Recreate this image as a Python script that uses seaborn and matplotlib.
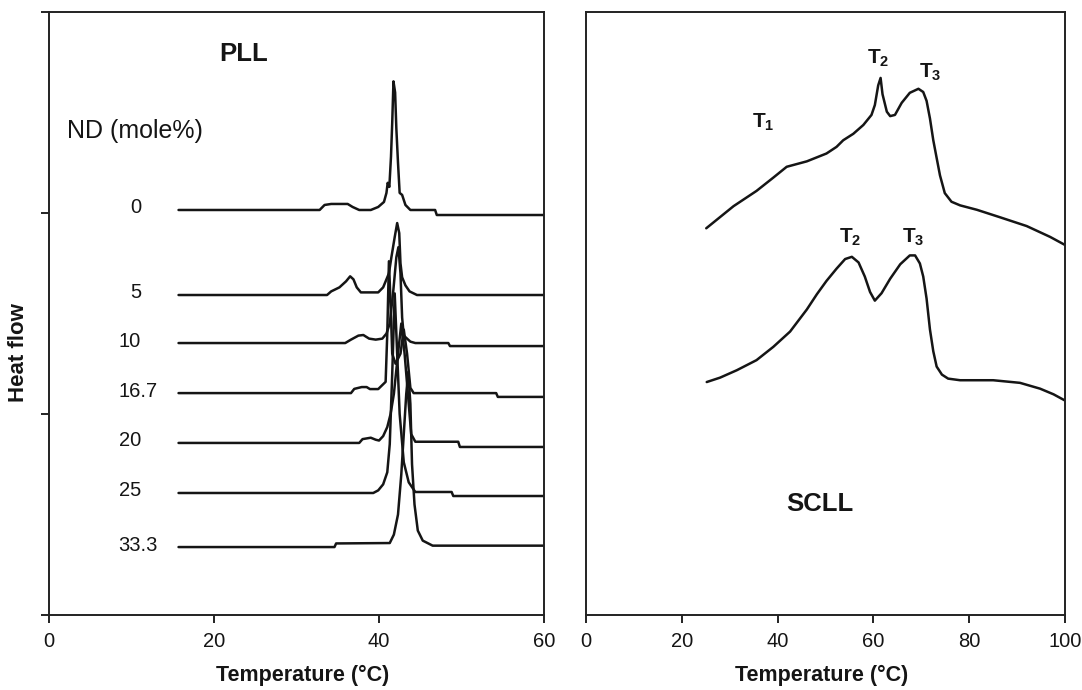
import matplotlib
matplotlib.use("Agg")
import matplotlib.pyplot as plt
import pandas as pd
import seaborn as sns

# ---- PLL thermograms (temperature in °C, heat flow in arbitrary offset units) ----
nd_labels = ["0", "5", "10", "16.7", "20", "25", "33.3"]

t_nd0 = [15.7, 32.8, 33.4, 34.2, 36.2, 36.8, 37.6, 39.0, 39.9, 40.6, 40.9, 41.05, 41.25,
         41.45, 41.6, 41.75, 41.95, 42.1, 42.3, 42.5, 42.8, 43.2, 43.8, 46.8, 47.0, 60.0]
f_nd0 = [2.015, 2.015, 2.04, 2.045, 2.045, 2.03, 2.015, 2.015, 2.03, 2.055, 2.10, 2.15, 2.13,
         2.28, 2.45, 2.655, 2.60, 2.42, 2.25, 2.10, 2.09, 2.04, 2.015, 2.015, 1.99, 1.99]

t_nd5 = [15.7, 33.7, 34.2, 35.2, 36.0, 36.5, 36.9, 37.3, 37.8, 39.9, 40.5, 40.9, 41.2,
         41.5, 41.9, 42.2, 42.45, 42.6, 42.8, 43.2, 43.7, 44.6, 60.0]
f_nd5 = [1.592, 1.592, 1.61, 1.63, 1.66, 1.685, 1.67, 1.63, 1.605, 1.605, 1.63, 1.67, 1.70,
         1.78, 1.88, 1.95, 1.90, 1.75, 1.68, 1.64, 1.61, 1.592, 1.592]

t_nd10 = [15.7, 35.9, 36.6, 37.5, 38.1, 38.8, 39.6, 40.4, 40.9, 41.3, 41.7, 42.1, 42.35,
          42.6, 42.8, 43.0, 43.8, 44.4, 48.4, 48.6, 60.0]
f_nd10 = [1.353, 1.353, 1.37, 1.39, 1.393, 1.375, 1.37, 1.375, 1.40, 1.45, 1.60, 1.78, 1.83,
          1.70, 1.48, 1.39, 1.36, 1.353, 1.353, 1.338, 1.338]

t_nd16 = [15.7, 36.6, 37.0, 37.9, 38.5, 38.9, 39.9, 40.3, 40.8, 41.0, 41.2, 41.4, 41.6,
          42.0, 42.6, 43.0, 43.4, 43.8, 44.2, 54.2, 54.4, 60.0]
f_nd16 = [1.104, 1.104, 1.125, 1.134, 1.134, 1.124, 1.124, 1.14, 1.16, 1.40, 1.76, 1.55, 1.30,
          1.25, 1.30, 1.42, 1.30, 1.13, 1.104, 1.104, 1.085, 1.085]

t_nd20 = [15.7, 37.6, 38.0, 39.0, 39.6, 40.0, 40.5, 41.0, 41.4, 41.8, 42.3, 42.7, 43.1,
          43.5, 43.9, 44.4, 49.6, 49.8, 60.0]
f_nd20 = [0.856, 0.856, 0.875, 0.882, 0.872, 0.868, 0.89, 0.935, 1.00, 1.10, 1.30, 1.45, 1.30,
          1.10, 0.90, 0.862, 0.862, 0.836, 0.836]

t_nd25 = [15.7, 39.3, 39.9, 40.5, 41.0, 41.3, 41.6, 41.9, 42.2, 42.5, 43.0, 43.6, 44.4,
          48.8, 49.0, 60.0]
f_nd25 = [0.607, 0.607, 0.62, 0.65, 0.71, 0.85, 1.20, 1.60, 1.30, 1.00, 0.76, 0.66, 0.612,
          0.612, 0.592, 0.592]

t_nd33 = [15.7, 34.6, 34.8, 41.3, 41.8, 42.3, 42.7, 43.0, 43.3, 43.55, 43.8, 44.0, 44.3,
          44.7, 45.3, 46.5, 60.0]
f_nd33 = [0.338, 0.338, 0.356, 0.358, 0.40, 0.50, 0.70, 0.90, 1.10, 1.21, 1.05, 0.75, 0.55,
          0.42, 0.37, 0.345, 0.345]

pll_temps = [t_nd0, t_nd5, t_nd10, t_nd16, t_nd20, t_nd25, t_nd33]
pll_flows = [f_nd0, f_nd5, f_nd10, f_nd16, f_nd20, f_nd25, f_nd33]

# ---- SCLL thermograms ----
t_scll_a = [25.1, 30.8, 35.6, 39.1, 41.9, 46.1, 50.2, 52.3, 53.7, 55.8, 57.9, 59.6, 60.3,
            61.0, 61.5, 61.9, 62.8, 63.5, 64.5, 65.9, 67.6, 69.4, 70.4, 71.1, 71.8, 72.5,
            73.2, 73.9, 74.9, 76.3, 78.1, 81.6, 86.4, 92.0, 96.9, 100.0]
f_scll_a = [1.924, 2.034, 2.110, 2.176, 2.230, 2.257, 2.296, 2.329, 2.362, 2.394, 2.438, 2.488,
            2.537, 2.635, 2.672, 2.591, 2.504, 2.482, 2.488, 2.548, 2.598, 2.618, 2.602, 2.558,
            2.471, 2.362, 2.274, 2.187, 2.099, 2.056, 2.038, 2.016, 1.979, 1.935, 1.881, 1.841]

t_scll_b = [25.2, 28.0, 31.5, 35.6, 39.1, 42.6, 46.1, 48.2, 50.2, 52.3, 54.1, 55.5, 56.9,
            58.2, 59.3, 60.3, 61.7, 63.5, 65.6, 67.6, 68.7, 69.7, 70.4, 71.1, 71.8, 72.5,
            73.2, 74.3, 75.6, 78.1, 85.0, 90.6, 94.8, 97.6, 100.0]
f_scll_b = [1.159, 1.181, 1.218, 1.268, 1.334, 1.410, 1.520, 1.596, 1.662, 1.723, 1.771, 1.782,
            1.754, 1.684, 1.607, 1.564, 1.601, 1.673, 1.745, 1.789, 1.789, 1.749, 1.684, 1.574,
            1.421, 1.312, 1.236, 1.196, 1.176, 1.168, 1.168, 1.155, 1.126, 1.098, 1.067]

# Transition markers: (label, temperature, heat flow)
scll_marks = [("1", 37.0, 2.45), ("2", 61.0, 2.77), ("3", 71.8, 2.70),
              ("2", 55.1, 1.88), ("3", 68.3, 1.88)]

left_xticks = [0, 20, 40, 60]
right_xticks = [0, 20, 40, 60, 80, 100]

# ---- styling ----
sns.set_theme(style="ticks")
plt.rcParams["font.family"] = ["Liberation Sans", "DejaVu Sans"]
plt.rcParams["mathtext.fontset"] = "custom"
plt.rcParams["mathtext.rm"] = "Liberation Sans"
plt.rcParams["mathtext.bf"] = "Liberation Sans:bold"

INK = "#151515"
TICK_FS = 14.5

fig = plt.figure(figsize=(10.82, 6.90), dpi=100)
axL = fig.add_axes([0.0453, 0.1087, 0.4575, 0.8739])
axR = fig.add_axes([0.5416, 0.1087, 0.4427, 0.8739])

pll_df = pd.concat(
    [pd.DataFrame({"temp": t, "flow": f, "nd": lab})
     for t, f, lab in zip(pll_temps, pll_flows, nd_labels)],
    ignore_index=True)
scll_df = pd.concat(
    [pd.DataFrame({"temp": t_scll_a, "flow": f_scll_a, "run": "a"}),
     pd.DataFrame({"temp": t_scll_b, "flow": f_scll_b, "run": "b"})],
    ignore_index=True)

sns.lineplot(data=pll_df, x="temp", y="flow", units="nd", estimator=None, sort=False,
             color=INK, lw=1.8, legend=False, ax=axL)
sns.lineplot(data=scll_df, x="temp", y="flow", units="run", estimator=None, sort=False,
             color=INK, lw=1.8, legend=False, ax=axR)

for ax, xt, xmax in ((axL, left_xticks, 60), (axR, right_xticks, 100)):
    ax.set_xlim(0, xmax)
    ax.set_ylim(0, 3)
    ax.set_xticks(xt)
    ax.set_xticklabels([str(v) for v in xt])
    for sp in ax.spines.values():
        sp.set_visible(True)
        sp.set_linewidth(1.4)
        sp.set_color("#222222")
    ax.tick_params(axis="x", direction="out", length=6, width=1.4, colors="#222222",
                   labelsize=TICK_FS, pad=6.5, labelcolor=INK)
    ax.set_xlabel("Temperature (°C)", fontsize=15.5, fontweight="bold", color=INK)
    ax.xaxis.label.set_va("center")

axL.xaxis.set_label_coords(0.513, -0.101)
axR.xaxis.set_label_coords(0.492, -0.101)

axL.set_yticks([0, 1, 2, 3])
axL.set_yticklabels([])
axL.tick_params(axis="y", direction="out", length=6, width=1.4, colors="#222222")
axR.set_yticks([])
axR.set_ylabel("")

axL.set_ylabel("Heat flow", fontsize=16, fontweight="bold", color=INK)
axL.yaxis.label.set_va("center")
axL.yaxis.set_label_coords(-0.0626, 0.436)

# Composition labels, aligned on the integer digits
digit_w = 0.556 * TICK_FS * 100 / 72 / (495 / 60)
for lab, f in zip(nd_labels, pll_flows):
    n_int = len(lab.split(".")[0])
    axL.text(11.15 - n_int * digit_w, f[0] + 0.01, lab, ha="left", va="center",
             fontsize=TICK_FS, color=INK)

axL.text(2.2, 2.41, "ND (mole%)", ha="left", va="center", fontsize=18, color=INK)
axL.text(23.6, 2.79, "PLL", ha="center", va="center", fontsize=18.5,
         fontweight="bold", color=INK)

for sub, x, y in scll_marks:
    axR.text(x, y, r"$\mathbf{T}_{\mathbf{%s}}$" % sub, ha="center", va="center",
             fontsize=15, color=INK)
axR.text(48.9, 0.55, "SCLL", ha="center", va="center", fontsize=18.5,
         fontweight="bold", color=INK)

fig.savefig("out.png", dpi=100)
